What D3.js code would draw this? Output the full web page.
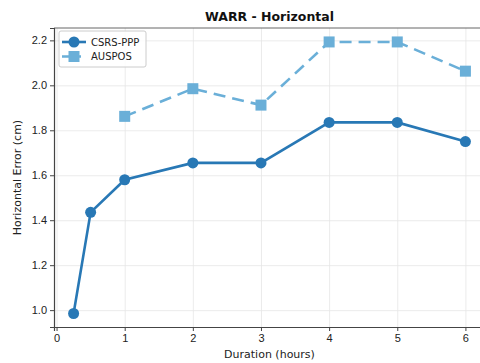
<!DOCTYPE html>
<html>
<head>
<meta charset="utf-8">
<script src="https://cdn.jsdelivr.net/npm/d3@7"></script>
<style>
  body { margin: 0; background: #fff; }
  svg { font-family: "DejaVu Sans", sans-serif; }
  .grid line { stroke: #e6e6e6; stroke-width: 0.8; }
  .grid path { display: none; }
  .axis path, .axis line { stroke: #444; }
  .axis text { fill: #222; font-size: 11px; }
</style>
</head>
<body>
<div id="chart"></div>
<script>
/* DATA */
const ppp_hours = [0.25, 0.5, 1, 2, 3, 4, 5, 6];
const ppp_error = [0.985, 1.435, 1.58, 1.655, 1.655, 1.835, 1.835, 1.75];
const auspos_hours = [1, 2, 3, 4, 5, 6];
const auspos_error = [1.862, 1.985, 1.912, 2.193, 2.193, 2.063];
const xTicks = [0, 1, 2, 3, 4, 5, 6];
const yTicks = [1.0, 1.2, 1.4, 1.6, 1.8, 2.0, 2.2];

const width = 480,
  height = 363,
  margin = { top: 28, bottom: 36, left: 54, right: -5 };

const pppColor = "#2878b5",
  ausColor = "#6aafd8";

const svg = d3.select("#chart")
  .append("svg")
  .attr("width", width)
  .attr("height", height);

const xScale = d3.scaleLinear()
  .domain([-0.0375, 6.2875])
  .range([margin.left, width - margin.right]);

const yScale = d3.scaleLinear()
  .domain([0.925, 2.255])
  .range([height - margin.bottom, margin.top]);

// grid
svg.append("g")
  .attr("class", "grid")
  .attr("transform", `translate(0, ${height - margin.bottom})`)
  .call(d3.axisBottom(xScale).tickValues(xTicks).tickSize(-(height - margin.top - margin.bottom)).tickFormat(""));

svg.append("g")
  .attr("class", "grid")
  .attr("transform", `translate(${margin.left}, 0)`)
  .call(d3.axisLeft(yScale).tickValues(yTicks).tickSize(-(width - margin.left - margin.right)).tickFormat(""));

// frame (top spine)
svg.append("line")
  .attr("x1", margin.left).attr("x2", width)
  .attr("y1", margin.top).attr("y2", margin.top)
  .attr("stroke", "#666").attr("stroke-width", 1);

// axes
svg.append("g")
  .attr("class", "axis")
  .attr("transform", `translate(0, ${height - margin.bottom})`)
  .call(d3.axisBottom(xScale).tickValues(xTicks).tickSize(4).tickPadding(3).tickFormat(d3.format("d")))
  .call(g => g.select(".domain").attr("stroke-width", 1.2));

svg.append("g")
  .attr("class", "axis")
  .attr("transform", `translate(${margin.left}, 0)`)
  .call(d3.axisLeft(yScale).tickValues(yTicks).tickSize(4).tickPadding(3).tickFormat(d3.format(".1f")))
  .call(g => g.select(".domain").attr("stroke-width", 1.2));

// labels
svg.append("text")
  .attr("x", (margin.left + width - margin.right) / 2)
  .attr("y", 21)
  .attr("text-anchor", "middle")
  .attr("font-weight", "bold")
  .attr("font-size", 12.5)
  .attr("fill", "#111")
  .text("WARR - Horizontal");

svg.append("text")
  .attr("x", (margin.left + width - margin.right) / 2)
  .attr("y", 358)
  .attr("text-anchor", "middle")
  .attr("font-size", 11)
  .attr("fill", "#222")
  .text("Duration (hours)");

svg.append("text")
  .attr("transform", `translate(21, ${(margin.top + height - margin.bottom) / 2}) rotate(-90)`)
  .attr("text-anchor", "middle")
  .attr("font-size", 11)
  .attr("fill", "#222")
  .text("Horizontal Error (cm)");

// series
const line = d3.line()
  .x(d => xScale(d[0]))
  .y(d => yScale(d[1]));

const auspos = d3.zip(auspos_hours, auspos_error);
const ppp = d3.zip(ppp_hours, ppp_error);

svg.append("path")
  .datum(auspos)
  .attr("fill", "none")
  .attr("stroke", ausColor)
  .attr("stroke-width", 2.6)
  .attr("stroke-dasharray", "12,7")
  .attr("d", line);

svg.selectAll(".sq")
  .data(auspos)
  .join("rect")
  .attr("class", "sq")
  .attr("x", d => xScale(d[0]) - 5.5)
  .attr("y", d => yScale(d[1]) - 5.5)
  .attr("width", 11)
  .attr("height", 11)
  .attr("fill", ausColor);

svg.append("path")
  .datum(ppp)
  .attr("fill", "none")
  .attr("stroke", pppColor)
  .attr("stroke-width", 2.6)
  .attr("d", line);

svg.selectAll(".dot")
  .data(ppp)
  .join("circle")
  .attr("class", "dot")
  .attr("cx", d => xScale(d[0]))
  .attr("cy", d => yScale(d[1]))
  .attr("r", 5.5)
  .attr("fill", pppColor);

// legend
const legend = svg.append("g").attr("transform", "translate(59, 31)");
legend.append("rect")
  .attr("width", 87).attr("height", 36).attr("rx", 2)
  .attr("fill", "white").attr("fill-opacity", 0.85)
  .attr("stroke", "#ccc");

const items = [
  { name: "CSRS-PPP", color: pppColor, dash: null, shape: "circle" },
  { name: "AUSPOS", color: ausColor, dash: "7,5", shape: "square" }
];
const row = legend.selectAll(".item")
  .data(items)
  .join("g")
  .attr("transform", (d, i) => `translate(0, ${11 + i * 14.5})`);

row.append("line")
  .attr("x1", 3).attr("x2", 27)
  .attr("stroke", d => d.color)
  .attr("stroke-width", 2.6)
  .attr("stroke-dasharray", d => d.dash);

row.filter(d => d.shape === "circle").append("circle")
  .attr("cx", 15).attr("r", 5.5).attr("fill", d => d.color);
row.filter(d => d.shape === "square").append("rect")
  .attr("x", 9.5).attr("y", -5.5).attr("width", 11).attr("height", 11).attr("fill", d => d.color);

row.append("text")
  .attr("x", 32).attr("dy", "0.35em")
  .attr("font-size", 10)
  .attr("fill", "#222")
  .text(d => d.name);
</script>
</body>
</html>
